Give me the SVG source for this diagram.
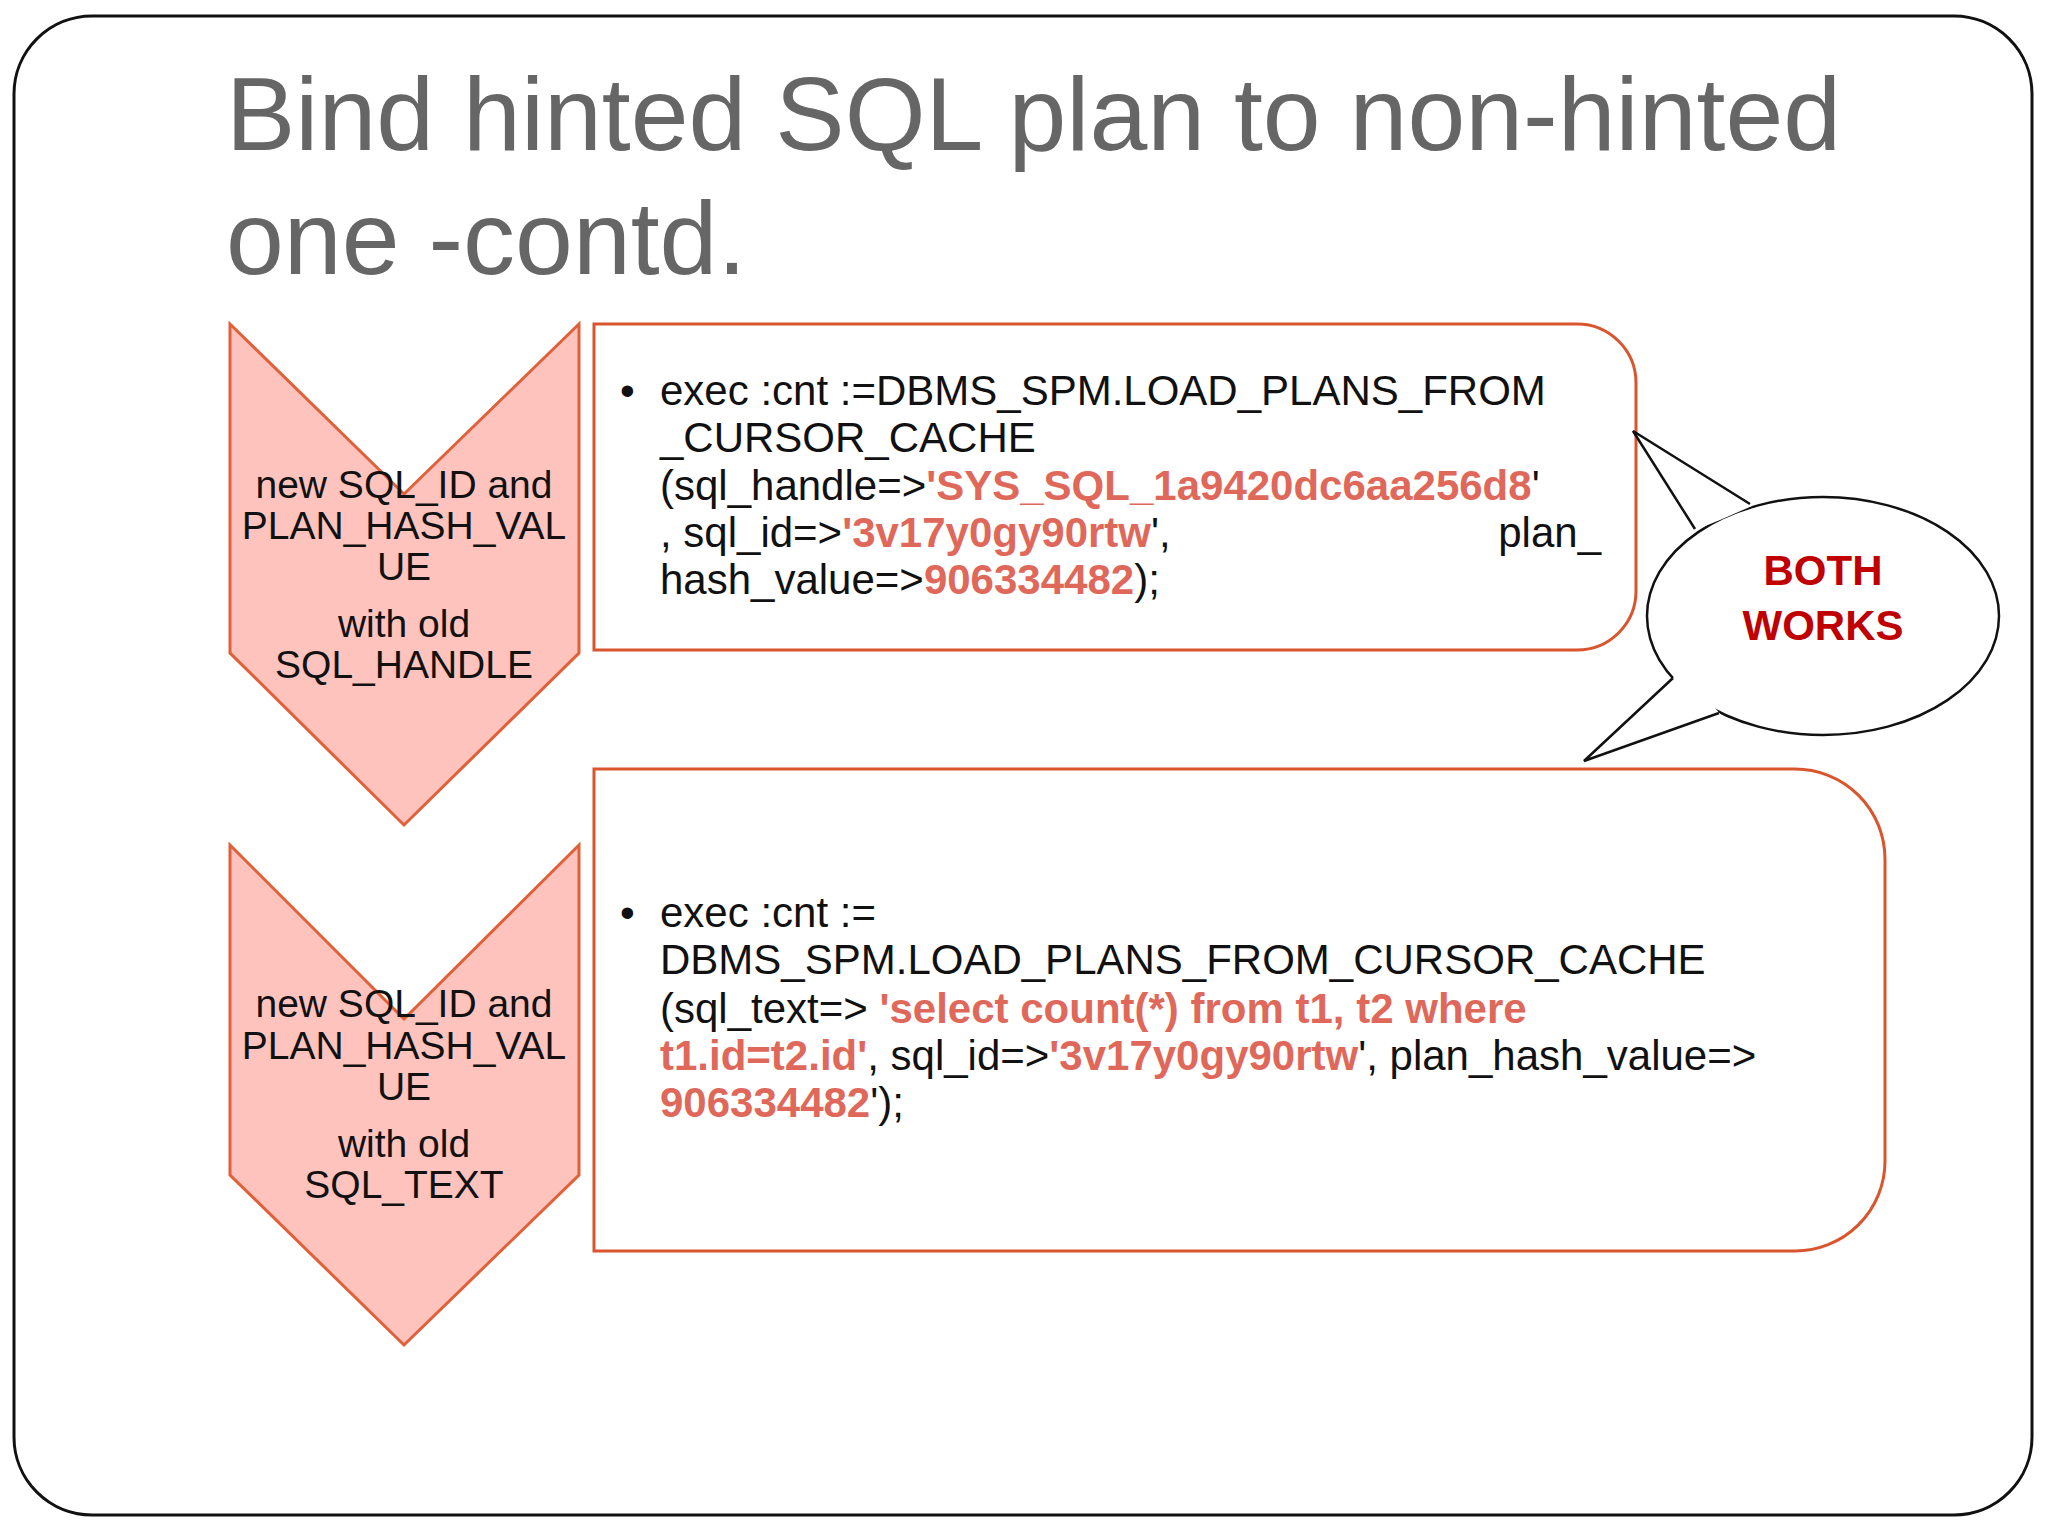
<svg xmlns="http://www.w3.org/2000/svg" width="2048" height="1536" viewBox="0 0 2048 1536">
<style>
text{font-family:"Liberation Sans",Arial,sans-serif}
.t{font-size:104px;fill:#666}
.c{font-size:39px;fill:#111;text-anchor:middle}
.b{font-size:42px;fill:#111}
.r{fill:#e0685a;font-weight:bold}
.chev{fill:#fdc3bc;stroke:#e0603a;stroke-width:3}
.box{fill:#fff;stroke:#d9552e;stroke-width:3}
</style>
<rect width="2048" height="1536" fill="#fff"/>
<rect x="14" y="16" width="2018" height="1499" rx="78" fill="#fff" stroke="#111" stroke-width="3"/>
<text class="t" x="226" y="150">Bind hinted SQL plan to non-hinted</text>
<text class="t" x="226" y="274">one -contd.</text>
<g id="chevron1">
<polygon class="chev" points="230,324 404,494 579,324 579,653 404,825 230,653"/>
<text class="c" x="404" y="498">new SQL_ID and</text>
<text class="c" x="404" y="539">PLAN_HASH_VAL</text>
<text class="c" x="404" y="580">UE</text>
<text class="c" x="404" y="637">with old</text>
<text class="c" x="404" y="678">SQL_HANDLE</text>
</g>
<g id="chevron2">
<polygon class="chev" points="230,845 404,1019 579,845 579,1175 404,1345 230,1175"/>
<text class="c" x="404" y="1017">new SQL_ID and</text>
<text class="c" x="404" y="1059">PLAN_HASH_VAL</text>
<text class="c" x="404" y="1100">UE</text>
<text class="c" x="404" y="1157">with old</text>
<text class="c" x="404" y="1198">SQL_TEXT</text>
</g>
<g id="box1">
<path class="box" d="M594,324 H1577 A59,59 0 0 1 1636,383 V591 A59,59 0 0 1 1577,650 H594 Z"/>
<text class="b" x="620" y="405">•</text>
<text class="b" x="660" y="405">exec :cnt :=DBMS_SPM.LOAD_PLANS_FROM</text>
<text class="b" x="660" y="452">_CURSOR_CACHE</text>
<text class="b" x="660" y="500">(sql_handle=&gt;<tspan class="r">'SYS_SQL_1a9420dc6aa256d8</tspan>'</text>
<text class="b" x="660" y="547">, sql_id=&gt;<tspan class="r">'3v17y0gy90rtw</tspan>',</text>
<text class="b" x="1601" y="547" text-anchor="end">plan_</text>
<text class="b" x="660" y="594">hash_value=&gt;<tspan class="r">906334482</tspan>);</text>
</g>
<g id="box2">
<path class="box" d="M594,769 H1795 A90,90 0 0 1 1885,859 V1161 A90,90 0 0 1 1795,1251 H594 Z"/>
<text class="b" x="620" y="927">•</text>
<text class="b" x="660" y="927">exec :cnt :=</text>
<text class="b" x="660" y="974">DBMS_SPM.LOAD_PLANS_FROM_CURSOR_CACHE</text>
<text class="b" x="660" y="1023">(sql_text=&gt; <tspan class="r">'select count(*) from t1, t2 where</tspan></text>
<text class="b" x="660" y="1070"><tspan class="r">t1.id=t2.id'</tspan>, sql_id=&gt;<tspan class="r">'3v17y0gy90rtw</tspan>', plan_hash_value=&gt;</text>
<text class="b" x="660" y="1117"><tspan class="r">906334482</tspan>');</text>
</g>
<g id="callout">
<ellipse cx="1823" cy="616" rx="176" ry="119" fill="#fff" stroke="#111" stroke-width="2.5"/>
<polygon points="1752,506 1633,431 1693,531 1720,520" fill="#fff"/>
<polyline points="1750,504 1633,431 1695,529" fill="none" stroke="#111" stroke-width="2.5"/>
<polygon points="1675,676 1584,761 1721,715 1700,690" fill="#fff"/>
<polyline points="1673,678 1584,761 1719,713" fill="none" stroke="#111" stroke-width="2.5"/>
<text x="1823" y="585" text-anchor="middle" font-size="42" font-weight="bold" fill="#c00000">BOTH</text>
<text x="1823" y="640" text-anchor="middle" font-size="42" font-weight="bold" fill="#c00000">WORKS</text>
</g>
</svg>
